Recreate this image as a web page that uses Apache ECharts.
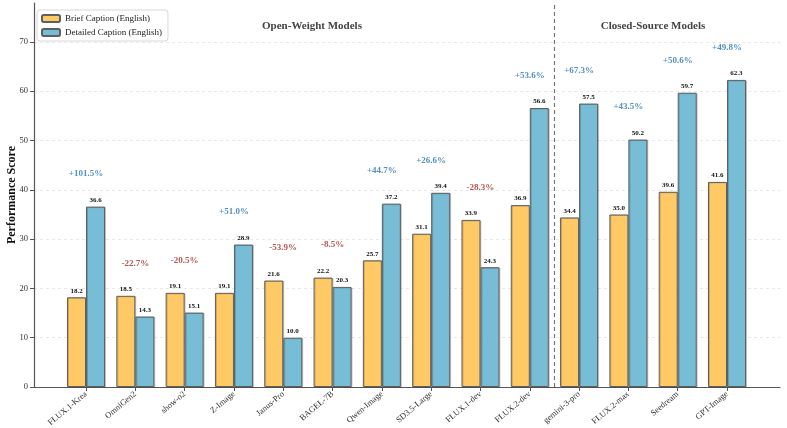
<!DOCTYPE html>
<html><head><meta charset="utf-8">
<script src="https://cdn.jsdelivr.net/npm/echarts@6/dist/echarts.min.js"></script>
<style>html,body{margin:0;padding:0;background:#fff}#c{width:787px;height:428px}</style>
</head><body><div id="c"></div>
<script>
const categories = ['FLUX.1-Krea','OmniGen2','show-o2','Z-Image','Janus-Pro','BAGEL-7B','Qwen-Image','SD3.5-Large','FLUX.1-dev','FLUX.2-dev','gemini-3-pro','FLUX.2-max','Seedream','GPT-Image'];
const brief = [18.2,18.5,19.1,19.1,21.6,22.2,25.7,31.1,33.9,36.9,34.4,35.0,39.6,41.6];
const detailed = [36.6,14.3,15.1,28.9,10.0,20.3,37.2,39.4,24.3,56.6,57.5,50.2,59.7,62.3];
const changes = ['+101.5%','-22.7%','-20.5%','+51.0%','-53.9%','-8.5%','+44.7%','+26.6%','-28.3%','+53.6%','+67.3%','+43.5%','+50.6%','+49.8%'];
const yTicks = [0,10,20,30,40,50,60,70];

const FONT = 'Liberation Serif';
const chart = echarts.init(document.getElementById('c'), null, {renderer:'canvas'});
const idx = categories.map((_, i) => i);
const barStyle = (c) => ({color: c, borderColor: '#5f5f5f', borderWidth: 1,
  shadowColor: 'rgba(0,0,0,0.18)', shadowOffsetX: 1, shadowOffsetY: 0.5, shadowBlur: 0});
const valLabel = {show: true, position: 'top', distance: 3, fontFamily: FONT, fontSize: 7, fontWeight: 'bold', color: '#111',
  formatter: p => p.value[1].toFixed(1)};

chart.setOption({
  animation: false,
  textStyle: {fontFamily: FONT},
  grid: {left: 34, right: 7, top: 3, bottom: 41, containLabel: false, outerBoundsMode: 'none'},
  legend: {
    left: 37, top: 10, orient: 'vertical', itemWidth: 18, itemHeight: 7, itemGap: 5,
    backgroundColor: '#fff', borderColor: '#d8d8d8', borderWidth: 1, borderRadius: 3, padding: [4, 6, 4, 4],
    textStyle: {fontFamily: FONT, fontSize: 9, color: '#222'},
    data: ['Brief Caption (English)', 'Detailed Caption (English)']
  },
  xAxis: {
    type: 'value', min: -1.055, max: 14.075,
    splitLine: {show: false},
    axisLine: {show: true, onZero: false, lineStyle: {color: '#555', width: 1.2}},
    axisTick: {show: true, length: 4, lineStyle: {color: '#555'}, customValues: idx},
    axisLabel: {customValues: idx, rotate: 40, fontFamily: FONT, fontSize: 8.5, color: '#333', margin: 6,
      formatter: v => categories[Math.round(v)] || ''}
  },
  yAxis: {
    type: 'value', min: 0, max: 77.9,
    name: 'Performance Score', nameLocation: 'middle', nameGap: 16, nameMoveOverlap: false,
    nameTextStyle: {fontFamily: FONT, fontSize: 12, fontWeight: 'bold', color: '#111'},
    axisLine: {show: true, onZero: false, lineStyle: {color: '#555', width: 1.2}},
    axisTick: {show: true, length: 4, lineStyle: {color: '#555'}, customValues: yTicks},
    axisLabel: {customValues: yTicks, fontFamily: FONT, fontSize: 8.5, color: '#333', margin: 6},
    splitLine: {show: true, lineStyle: {color: '#e2e2e2', type: [3, 3], width: 0.8}}
  },
  graphic: [
    {type: 'text', x: 312, y: 26, style: {text: 'Open-Weight Models', font: 'bold 11px "Liberation Serif"', fill: '#444', align: 'center', verticalAlign: 'middle'}},
    {type: 'text', x: 653, y: 26, style: {text: 'Closed-Source Models', font: 'bold 11px "Liberation Serif"', fill: '#444', align: 'center', verticalAlign: 'middle'}}
  ],
  series: [
    {name: 'Brief Caption (English)', type: 'bar', barWidth: 19, barGap: '0%',
      itemStyle: barStyle('#FFCA66'), label: valLabel,
      data: brief.map((v, i) => [i, v])},
    {name: 'Detailed Caption (English)', type: 'bar', barWidth: 19, barGap: '0%',
      itemStyle: barStyle('#78BDD6'), label: valLabel,
      data: detailed.map((v, i) => [i, v])},
    {type: 'scatter', symbolSize: 0, silent: true, legendHoverLink: false,
      itemStyle: {color: 'transparent'},
      label: {show: true, position: 'inside', fontFamily: FONT, fontSize: 9, fontWeight: 'bold',
        formatter: p => changes[p.dataIndex]},
      data: detailed.map((v, i) => ({value: [i, Math.max(v, brief[i]) + 6.6],
        label: {color: changes[i][0] === '+' ? '#2B74AE' : '#A52A2A'}})),
      markLine: {silent: true, symbol: 'none', label: {show: false},
        lineStyle: {color: '#777', type: [4, 3], width: 1.2}, data: [{xAxis: 9.5}]}
    }
  ]
});
</script></body></html>
